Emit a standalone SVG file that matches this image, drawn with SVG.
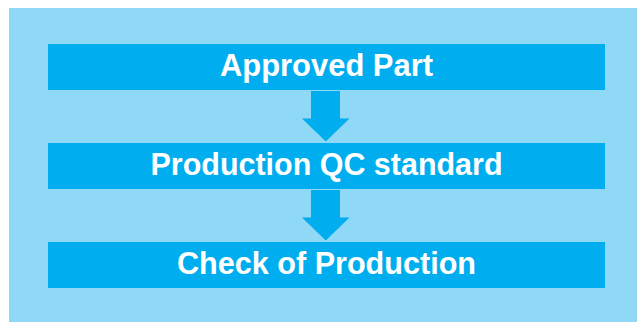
<svg xmlns="http://www.w3.org/2000/svg" width="637" height="322" viewBox="0 0 637 322">
<style>
.box{fill:#00AEEF}
.lbl{font-family:"Liberation Sans",Arial,sans-serif;font-weight:bold;font-size:30.5px;fill:#FFFFFF;text-anchor:middle}
.arr{fill:#00AEEF}
</style>
<rect x="9" y="8" width="628" height="314" fill="#8FD9F6"/>
<g id="node-approved">
<rect class="box" x="48" y="44" width="557" height="46"/>
<text class="lbl" x="326.5" y="76" textLength="213" lengthAdjust="spacingAndGlyphs">Approved Part</text>
</g>
<g id="node-qc">
<rect class="box" x="48" y="143" width="557" height="46"/>
<text class="lbl" x="326.5" y="175" textLength="352" lengthAdjust="spacingAndGlyphs">Production QC standard</text>
</g>
<g id="node-check">
<rect class="box" x="48" y="242" width="557" height="46"/>
<text class="lbl" x="326.5" y="274" textLength="299" lengthAdjust="spacingAndGlyphs">Check of Production</text>
</g>
<g id="connectors">
<polygon class="arr" points="311,91 340,91 340,118.5 349.5,118.5 325.8,141.5 302,118.5 311,118.5"/>
<polygon class="arr" points="311,190 340,190 340,217.5 349.5,217.5 325.8,240.5 302,217.5 311,217.5"/>
</g>
</svg>
